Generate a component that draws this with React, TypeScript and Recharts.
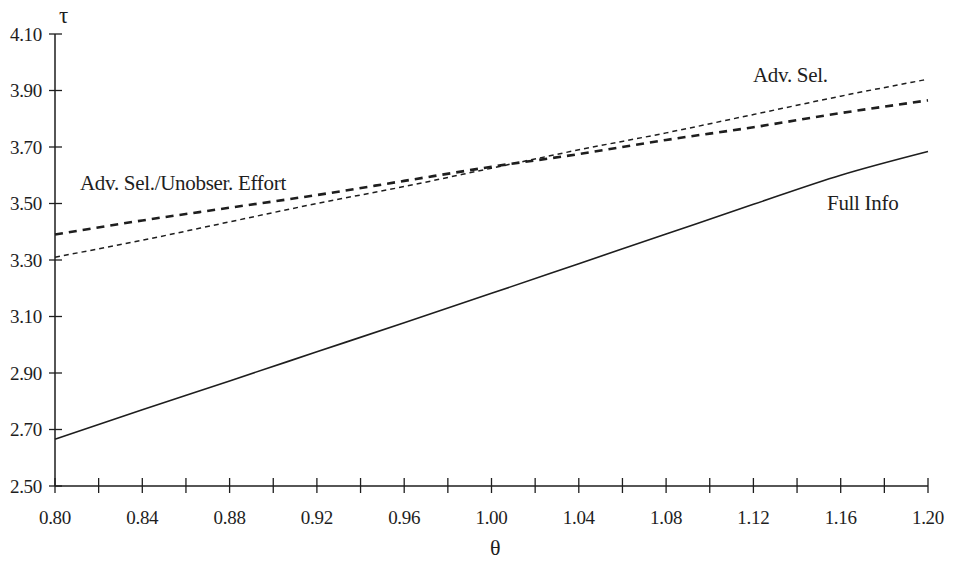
import React from "react"
import { LineChart, Line, XAxis, YAxis } from "recharts"

const thetas = [0.8, 0.84, 0.88, 0.92, 0.96, 1.0, 1.04, 1.08, 1.12, 1.16, 1.2]
const fullInfo = [2.666, 2.77, 2.872, 2.975, 3.078, 3.182, 3.287, 3.392, 3.497, 3.6, 3.684]
const advSel = [3.31, 3.37, 3.435, 3.5, 3.56, 3.625, 3.69, 3.75, 3.815, 3.88, 3.94]
const advSelEffort = [3.39, 3.44, 3.485, 3.53, 3.58, 3.63, 3.675, 3.725, 3.77, 3.82, 3.865]

const xTicks = [
  0.8, 0.82, 0.84, 0.86, 0.88, 0.9, 0.92, 0.94, 0.96, 0.98, 1.0,
  1.02, 1.04, 1.06, 1.08, 1.1, 1.12, 1.14, 1.16, 1.18, 1.2,
]
const xLabels = ["0.80", "0.84", "0.88", "0.92", "0.96", "1.00", "1.04", "1.08", "1.12", "1.16", "1.20"]
const yTicks = [2.5, 2.7, 2.9, 3.1, 3.3, 3.5, 3.7, 3.9, 4.1]

const ink = "#1e1e1e"
const font = "'Liberation Serif', 'DejaVu Serif', serif"

const data = thetas.map((t, i) => ({
  theta: t,
  full: fullInfo[i],
  adv: advSel[i],
  eff: advSelEffort[i],
}))

function XTick({ x, y, index }: any) {
  const major = index % 2 === 0
  return (
    <g>
      <line x1={x} x2={x} y1={y - 8} y2={y + 7} stroke={ink} strokeWidth={1.3} />
      {major && (
        <text x={x} y={y + 31} textAnchor="middle" dominantBaseline="central" fill={ink} fontSize={19} fontFamily={font} letterSpacing={-0.3}>
          {xLabels[index / 2]}
        </text>
      )}
    </g>
  )
}

function YTick({ x, y, payload }: any) {
  return (
    <g>
      <line x1={x - 6} x2={x + 7} y1={y} y2={y} stroke={ink} strokeWidth={1.3} />
      <text x={x - 13} y={y} textAnchor="end" dominantBaseline="central" fill={ink} fontSize={19} fontFamily={font} letterSpacing={-0.3}>
        {payload.value.toFixed(2)}
      </text>
    </g>
  )
}

const labelStyle: React.CSSProperties = {
  position: "absolute",
  fontFamily: font,
  fontSize: 21,
  color: ink,
  whiteSpace: "nowrap",
  lineHeight: "22px",
  letterSpacing: -0.3,
}

export default function App() {
  return (
    <div style={{ position: "absolute", left: 0, top: 0, width: 960, height: 562, background: "#fff" }}>
      <LineChart width={960} height={562} data={data} margin={{ top: 34, right: 32, left: 0, bottom: 0 }}>
        <XAxis
          dataKey="theta"
          type="number"
          domain={[0.8, 1.2]}
          ticks={xTicks}
          interval={0}
          height={76}
          tickSize={0}
          tickMargin={0}
          tickLine={false}
          axisLine={{ stroke: ink, strokeWidth: 1.5 }}
          tick={<XTick />}
        />
        <YAxis
          type="number"
          domain={[2.5, 4.1]}
          ticks={yTicks}
          interval={0}
          width={55}
          tickSize={0}
          tickMargin={0}
          tickLine={false}
          axisLine={{ stroke: ink, strokeWidth: 1.5 }}
          tick={<YTick />}
        />
        <Line type="monotone" dataKey="full" stroke={ink} strokeWidth={1.6} dot={false} isAnimationActive={false} />
        <Line type="monotone" dataKey="adv" stroke={ink} strokeWidth={1.5} strokeDasharray="5 4" dot={false} isAnimationActive={false} />
        <Line type="monotone" dataKey="eff" stroke={ink} strokeWidth={2.6} strokeDasharray="8 6" dot={false} isAnimationActive={false} />
      </LineChart>
      <div style={{ ...labelStyle, left: 59, top: 5, fontSize: 23 }}>τ</div>
      <div style={{ ...labelStyle, left: 490, top: 537, fontSize: 22 }}>θ</div>
      <div style={{ ...labelStyle, left: 753, top: 64 }}>Adv. Sel.</div>
      <div style={{ ...labelStyle, left: 827, top: 192 }}>Full Info</div>
      <div style={{ ...labelStyle, left: 80, top: 172 }}>Adv. Sel./Unobser. Effort</div>
    </div>
  )
}
